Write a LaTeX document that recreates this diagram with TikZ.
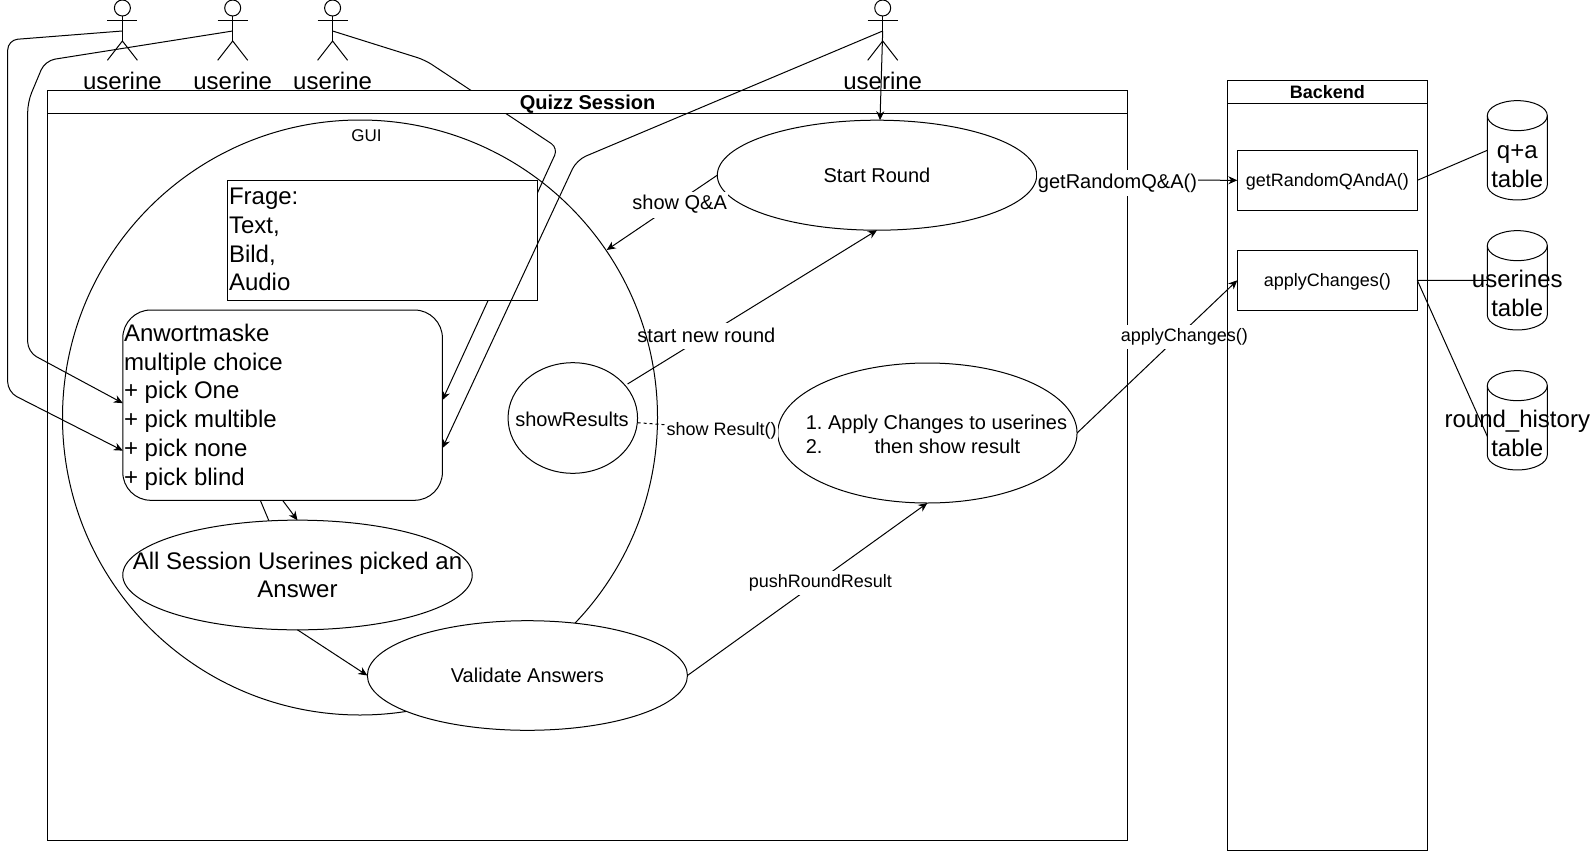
\documentclass[tikz,border=0pt]{standalone}
\usepackage{fontspec}
\setmainfont{Liberation Sans}
\usepackage{tikz}
\usetikzlibrary{arrows.meta,positioning,shapes.geometric}

\begin{document}
\begin{tikzpicture}[
    x=1pt, y=-1pt, line width=1pt,
    every node/.style={inner sep=0pt, outer sep=0pt},
    bigtxt/.style={font=\fontsize{24}{28.8}\selectfont, align=center},
    midtxt/.style={font=\fontsize{20}{24}\selectfont, align=center},
    smalltxt/.style={font=\fontsize{18}{22}\selectfont, align=center},
    edgelbl/.style={midtxt, fill=white, inner sep=1pt, minimum height=26pt},
    edgelblsmall/.style={smalltxt, fill=white, inner sep=1pt, minimum height=24pt},
    lane/.style={draw, minimum width=#1, anchor=north west},
    oval/.style={draw, ellipse, fill=white, minimum width=#1},
    fnbox/.style={draw, minimum width=180pt, minimum height=60pt, smalltxt, text height=13pt, text depth=1pt},
    tbl/.style={minimum width=60pt, minimum height=99.3pt},
    conn/.style={-{Stealth[length=9pt,width=8pt]}},
    node distance=40pt and 30pt
  ]
  \useasboundingbox (0,0) rectangle (1590,851);

  % actors
  \foreach \nm/\xx in {userA/122.4, userB/232.7, userC/332.6, userD/882.7} {
    \coordinate (\nm) at (\xx,31);
    \draw (\xx,8) circle (8pt);
    \draw (\xx,16) -- (\xx,41) (\xx-15,20.3) -- (\xx+15,20.3);
    \draw (\xx-15,60.3) -- (\xx,41) -- (\xx+15,60.3);
    \node[bigtxt] (\nm Name) at (\xx,81) {userine};
  }

  % session frame
  \node[lane=1080.1pt, minimum height=750pt] (session) at (47.5,90) {};
  \node[draw, rounded corners=28pt, fill=white, minimum width=319.6pt, minimum height=190.3pt, anchor=north west] (answer) at (122.8,310) {};
  \node[bigtxt, align=left, anchor=north west] (answerTxt) at (124,324) {Anwortmaske\\multiple choice\\+ pick One\\+ pick multible\\+ pick none\\+ pick blind};

  \draw[conn, rounded corners=10pt] (userA) -- (7.7,40) -- (7.7,392) -- ([yshift=-45.5pt]answer.west);
  \draw[conn, rounded corners=10pt] (userB) -- (45,60.7) -- (27.7,102) -- (27.7,352) -- ([yshift=2pt]answer.west);
  \draw[conn, rounded corners=8pt] (userC) -- (425,60) -- (558,148) -- ([yshift=5pt]answer.east);

  \node[lane=1080.1pt, fill=white, minimum height=23.3pt, text height=16pt, text depth=0pt, font=\fontsize{20}{24}\selectfont\bfseries] (sessionTitle) at (47.5,90) {Quizz Session};

  % state ovals
  \node[oval=319.4pt, minimum height=110pt] (startRound) at (877,175.2) {};
  \node[midtxt] (startRoundTxt) at (startRound) {Start Round};
  \node[oval=129.5pt, minimum height=110.6pt] (showResults) at (572.8,418) {};
  \node[midtxt] (showResultsTxt) at (572,419) {showResults};

  \draw[conn] ([xshift=-10pt,yshift=34pt]showResults.east) -- (startRound.south) node[edgelbl, pos=0.32, xshift=-1pt, yshift=-1pt] (startLbl) {start new round};

  % GUI region
  \node[draw, circle, minimum size=595pt] (gui) at (360,417.5) {};
  \node[font=\fontsize{17}{20}\selectfont] (guiTxt) at (366.6,135.7) {GUI};
  \node[draw, fill=white, minimum width=309.8pt, minimum height=119.7pt, anchor=north west] (frage) at (227.3,180.3) {};
  \node[bigtxt, align=left, anchor=north west] (frageTxt) at (229,188) {Frage:\\Text,\\Bild,\\Audio};

  \coordinate (stubTop) at (260.3,500.3);
  \coordinate (stubEnd) at (269,521);
  \draw (stubTop) -- (stubEnd);
  \draw[conn] (answer.south) -- (297.5,520.3) coordinate (allTop);

  \node[oval=349.5pt, minimum height=109.7pt] (allPicked) at (297.5,575) {};
  \node[bigtxt] (allPickedTxt) at (allPicked) {All Session Userines picked an\\Answer};
  \node[oval=320.1pt, minimum height=109.6pt] (validate) at (527.4,675.5) {};
  \node[midtxt] (validateTxt) at (validate) {Validate Answers};
  \draw[conn] (allPicked.south) -- (validate.west);

  \node[oval=299.3pt, minimum height=140pt] (apply) at (927.4,433) {};
  \node[midtxt, align=left] (applyTxt) at (936.5,434) {1.\hspace{5.6pt}Apply Changes to userines\\2.\hspace{52pt}then show result};

  \draw[conn] (userD) -- ([xshift=-2.7pt]userD |- startRound.north);
  \draw[conn, rounded corners=10pt] (userD) -- (576.6,160) -- ([yshift=-43pt]answer.east);

  \draw[conn] (startRound.west) -- (606.7,250) coordinate (guiEdge) node[edgelbl, pos=0.34, yshift=-4pt] (qaLbl) {show Q\&A};
  \draw[dash pattern=on 3pt off 3pt] ([yshift=-4.7pt]showResults.east) -- (apply.west) node[edgelblsmall, pos=0.6, yshift=-2pt] (resultLbl) {show Result()};
  \draw[conn] (validate.east) -- (apply.south) node[edgelblsmall, pos=0.55, xshift=1pt, yshift=-2.5pt] (pushLbl) {pushRoundResult};

  % backend
  \node[fnbox, anchor=north west] (getQA) at (1237.3,150.3) {getRandomQAndA()};
  \node[fnbox, below=40pt of getQA] (applyFn) {applyChanges()};
  \draw[conn] ([yshift=-4.5pt]startRound.east) -- (getQA.west) node[edgelbl, pos=0.395, xshift=1.5pt, yshift=-3pt] (getLbl) {getRandomQ\&A()};
  \draw[conn] (apply.east) -- (applyFn.west) node[edgelblsmall, pos=0.67, yshift=-6pt] (applyLbl) {applyChanges()};

  \node[lane=200pt, minimum height=769.7pt] (backend) at (1227.3,80.3) {};
  \node[lane=200pt, minimum height=23pt, font=\fontsize{18}{22}\selectfont\bfseries] (backendTitle) at (1227.3,80.3) {Backend};

  % tables
  \node[tbl] (qaTable) at (1517.3,150.3) {};
  \node[tbl, below=30.7pt of qaTable] (usersTable) {};
  \node[tbl, below=40.7pt of usersTable] (historyTable) {};
  \foreach \t in {qaTable, usersTable, historyTable} {
    \draw ([yshift=-15pt]\t.north west) arc[start angle=180, end angle=0, x radius=30pt, y radius=15pt]
      -- ([yshift=15pt]\t.south east) arc[start angle=0, end angle=-180, x radius=30pt, y radius=15pt] -- cycle;
    \draw ([yshift=-15pt]\t.north west) arc[start angle=180, end angle=360, x radius=30pt, y radius=15pt];
  }
  \draw (getQA.east) -- (qaTable.west);
  \draw (applyFn.east) -- (usersTable.west);
  \draw (applyFn.east) -- ([yshift=-16pt]historyTable.west);
  \node[bigtxt] (qaTxt) at ([yshift=-15.5pt]qaTable.center) {q+a\\table};
  \node[bigtxt] (usersTxt) at ([yshift=-13.5pt]usersTable.center) {userines\\table};
  \node[bigtxt] (historyTxt) at ([yshift=-13pt]historyTable.center) {round\_history\\table};
\end{tikzpicture}
\end{document}
